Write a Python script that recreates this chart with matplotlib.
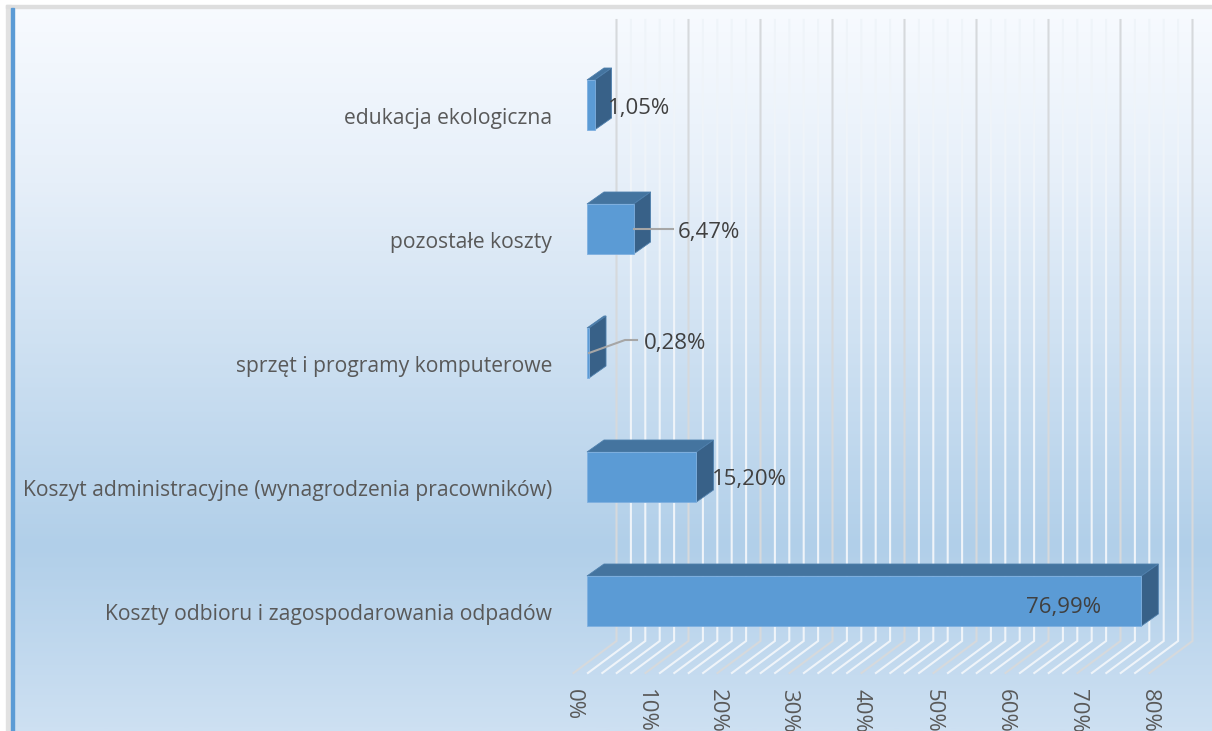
import matplotlib
matplotlib.use("Agg")
import matplotlib.pyplot as plt
import numpy as np
from matplotlib.colors import LinearSegmentedColormap
from matplotlib.patches import Polygon, Rectangle

# chart values, bottom category first
categories = [
    "Koszty odbioru i zagospodarowania odpadów",
    "Koszyt administracyjne (wynagrodzenia pracowników)",
    "sprzęt i programy komputerowe",
    "pozostałe koszty",
    "edukacja ekologiczna",
]
values = [76.99, 15.20, 0.28, 6.47, 1.05]
value_labels = ["76,99%", "15,20%", "0,28%", "6,47%", "1,05%"]
major_ticks = [0, 10, 20, 30, 40, 50, 60, 70, 80]
tick_labels = ["0%", "10%", "20%", "30%", "40%", "50%", "60%", "70%", "80%"]
minor_ticks = [v for v in range(0, 81, 2) if v % 10 != 0]

W, H = 1212, 731
PX_X = 7.2  # pixels per percent
PX_Y = 124.0  # pixels per category
X0, Y0 = 587, 601  # pixel of value 0, first category

FRONT = "#5B9BD5"
TOP = "#44749F"
SIDE = "#386188"
TEXT = "#595959"
LABEL = "#404040"

plt.rcParams["font.family"] = ["Open Sans", "DejaVu Sans"]


def dx(px):
    return px / PX_X


def dy(px):
    return px / PX_Y


def main():
    fig = plt.figure(figsize=(W / 100, H / 100), dpi=100)
    ax = fig.add_axes([0, 0, 1, 1])
    ax.set_xlim(-X0 / PX_X, (W - X0) / PX_X)
    ax.set_ylim((Y0 - H) / PX_Y, Y0 / PX_Y)
    ax.axis("off")
    xa, xb = ax.get_xlim()
    ya, yb = ax.get_ylim()

    # background gradient
    cmap = LinearSegmentedColormap.from_list(
        "bg",
        [(0, "#F8FBFF"), (0.25, "#E6EFF9"), (0.75, "#B1CFE9"), (1, "#CDE0F2")],
    )
    ax.imshow(
        np.linspace(0, 1, 300).reshape(-1, 1),
        cmap=cmap,
        aspect="auto",
        extent=[xa, xb, ya, yb],
        zorder=0,
    )
    ax.set_xlim(xa, xb)
    ax.set_ylim(ya, yb)

    # window frame
    ax.add_patch(Rectangle((xa, yb - dy(5)), xb - xa, dy(5), color="white", zorder=1))
    ax.add_patch(Rectangle((xa, ya), dx(6), yb - ya, color="white", zorder=1))
    ax.add_patch(Rectangle((xa + dx(6), ya), dx(5), yb - ya - dy(5), color="#E2E2E2", zorder=1))
    ax.add_patch(Rectangle((xa + dx(6), yb - dy(7.5)), xb - xa, dy(2.5), color="#DEDEDE", zorder=1))
    ax.add_patch(Rectangle((xa + dx(11), ya), dx(3), yb - ya - dy(7.5), color="#5B9BD5", zorder=2))

    # gridlines: back wall + floor
    back_x = dx(29.5)
    floor_y = -dy(40)
    top_y = dy(Y0 - 20)
    for ticks, color, width in [
        (minor_ticks, "#EFF4F9", 1.5),
        (major_ticks, "#D6D9DC", 1.5),
    ]:
        for t in ticks:
            ax.plot(
                [t + back_x, t + back_x, t + back_x - dx(43)],
                [top_y, floor_y, floor_y - dy(32)],
                color=color,
                lw=width,
                solid_joinstyle="miter",
                zorder=3,
            )

    # bars
    half = dy(25)
    depth_x, depth_y = dx(17), dy(12)
    for i, v in enumerate(values):
        ax.add_patch(
            Polygon(
                [(0, i + half), (v, i + half), (v + depth_x, i + half + depth_y), (depth_x, i + half + depth_y)],
                facecolor=TOP,
                edgecolor="#4F80AD",
                lw=0.6,
                zorder=4,
            )
        )
        ax.add_patch(
            Polygon(
                [(v, i - half), (v + depth_x, i - half + depth_y), (v + depth_x, i + half + depth_y), (v, i + half)],
                facecolor=SIDE,
                edgecolor="#4F80AD",
                lw=0.6,
                zorder=4,
            )
        )
        ax.add_patch(
            Rectangle((0, i - half), v, 2 * half, facecolor=FRONT, edgecolor="#7FB0E0", lw=0.6, zorder=5)
        )
        ax.text(
            -dx(35),
            i - dy(13.5),
            categories[i],
            ha="right",
            va="center",
            color=TEXT,
            fontsize=15.2,
            zorder=6,
        )

    # leader lines
    ax.plot([values[3], values[3] + dx(39)], [3, 3], color="#A6A6A6", lw=1.5, zorder=6)
    ax.plot(
        [values[2], dx(38), dx(50)],
        [2, 2 + dy(13), 2 + dy(13)],
        color="#A6A6A6",
        lw=1.5,
        zorder=6,
    )

    # data labels, offsets from each bar's end in pixels
    label_offsets = [(-115, -6), (15, -3), (55, 10), (44, -4), (13, -4)]
    for i, v in enumerate(values):
        ox, oy = label_offsets[i]
        ax.text(
            v + dx(ox),
            i + dy(oy),
            value_labels[i],
            ha="left",
            va="center",
            color=LABEL,
            fontsize=16,
            zorder=7,
        )

    # value axis labels
    for t, lab in zip(major_ticks, tick_labels):
        ax.text(
            t - dx(14),
            -dy(88),
            lab,
            rotation=270,
            ha="center",
            va="top",
            color=TEXT,
            fontsize=16,
            clip_on=True,
            zorder=6,
        )

    fig.savefig("out.png", dpi=100)


if __name__ == "__main__":
    main()
